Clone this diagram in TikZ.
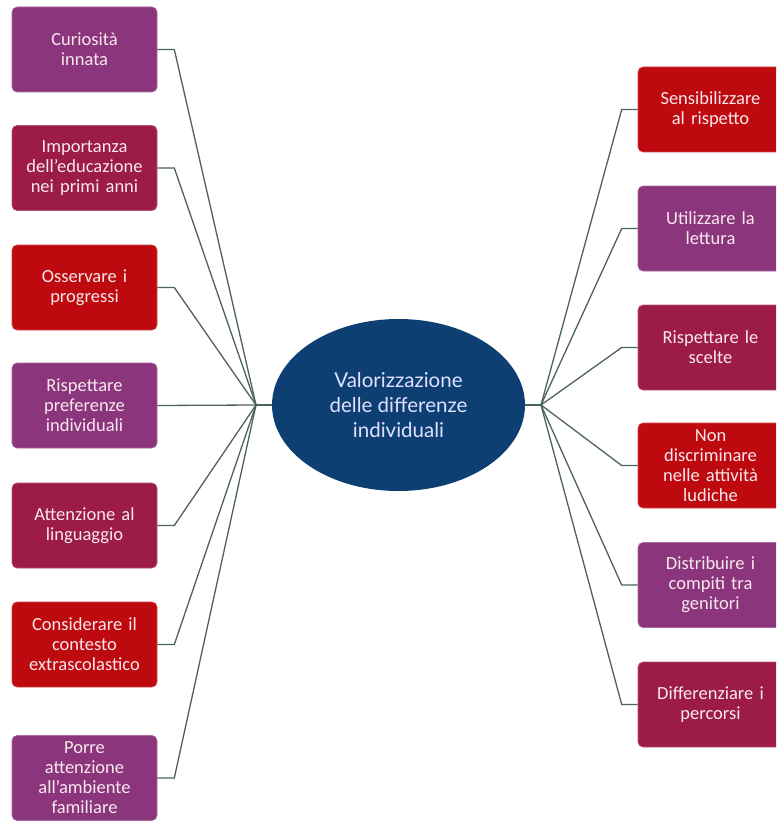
\documentclass[tikz,border=0pt]{standalone}
\usepackage{fontspec}
\setmainfont{Carlito}
\newfontfamily\centrefont{Lato}
\usetikzlibrary{shapes.geometric}

\definecolor{boxpurple}{HTML}{8B357D}
\definecolor{boxwine}{HTML}{9C1B47}
\definecolor{boxred}{HTML}{BE0A0E}
\definecolor{centreblue}{HTML}{0E3F73}
\definecolor{linkgrey}{HTML}{4B625E}
\definecolor{boxtext}{HTML}{F8E8EE}

\tikzset{
  idea/.style={rectangle, rounded corners=5pt, fill=#1, draw=#1!75!white,
    line width=0.6pt, minimum width=145pt, minimum height=85pt,
    inner xsep=2pt, inner ysep=0.5pt, text width=140pt, align=center,
    text=boxtext, font=\fontsize{18.5}{20}\selectfont},
  link/.style={draw=linkgrey, line width=1.3pt}
}

\begin{document}
\begin{tikzpicture}[x=1pt, y=-1pt]

        \clip (0, 0) rectangle (776, 821);

        \node (c) at (398.5, 405) [ellipse, fill = centreblue, minimum width = 253pt, minimum height = 172pt, inner sep = 0pt, align = center, text = white!88!blue, font = \centrefont\fontsize{20.5}{25}\selectfont] {Valorizzazione\\delle differenze\\individuali};

        \coordinate (hl) at (256, 405);
        \coordinate (hr) at (541, 405);

        % left side
        \node (l1) at (84.5, 49.5) [idea = boxpurple] {Curiosità\\innata};
        \node (l2) at (84.5, 168) [idea = boxwine] {Importanza\\dell'educazione\\nei primi anni};
        \node (l3) at (84.5, 287.5) [idea = boxred] {Osservare i\\progressi};
        \node (l4) at (84.5, 405.5) [idea = boxpurple] {Rispettare\\preferenze\\individuali};
        \node (l5) at (84.5, 525.5) [idea = boxwine] {Attenzione al\\linguaggio};
        \node (l6) at (84.5, 644.5) [idea = boxred] {Considerare il\\contesto\\extrascolastico};
        \node (l7) at (84.5, 778) [idea = boxpurple] {Porre\\attenzione\\all'ambiente\\familiare};

        % right side
        \node (r1) at (710.5, 109.5) [idea = boxred] {Sensibilizzare\\al rispetto};
        \node (r2) at (710.5, 228.5) [idea = boxpurple] {Utilizzare la\\lettura};
        \node (r3) at (710.5, 347.5) [idea = boxwine] {Rispettare le\\scelte};
        \node (r4) at (710.5, 465.5) [idea = boxred] {Non\\discriminare\\nelle attività\\ludiche};
        \node (r5) at (710.5, 585) [idea = boxpurple] {Distribuire i\\compiti tra\\genitori};
        \node (r6) at (710.5, 704.5) [idea = boxwine] {Differenziare i\\percorsi};

        \draw [link] (hl) -- (c.west);
        \draw [link] (hr) -- (c.east);

        \draw [link] (l1.east) -- ++(17, 0) -- (hl);
        \draw [link] (l2.east) -- ++(17, 0) -- (hl);
        \draw [link] (l3.east) -- ++(17, 0) -- (hl);
        \draw [link] (l4.east) -- (hl);
        \draw [link] (l5.east) -- ++(17, 0) -- (hl);
        \draw [link] (l6.east) -- ++(17, 0) -- (hl);
        \draw [link] (l7.east) -- ++(17, 0) -- (hl);

        \draw [link] (r1.west) -- ++(-16, 0) -- (hr);
        \draw [link] (r2.west) -- ++(-16, 0) -- (hr);
        \draw [link] (r3.west) -- ++(-16, 0) -- (hr);
        \draw [link] (r4.west) -- ++(-16, 0) -- (hr);
        \draw [link] (r5.west) -- ++(-16, 0) -- (hr);
        \draw [link] (r6.west) -- ++(-16, 0) -- (hr);

    \end{tikzpicture}
\end{document}
